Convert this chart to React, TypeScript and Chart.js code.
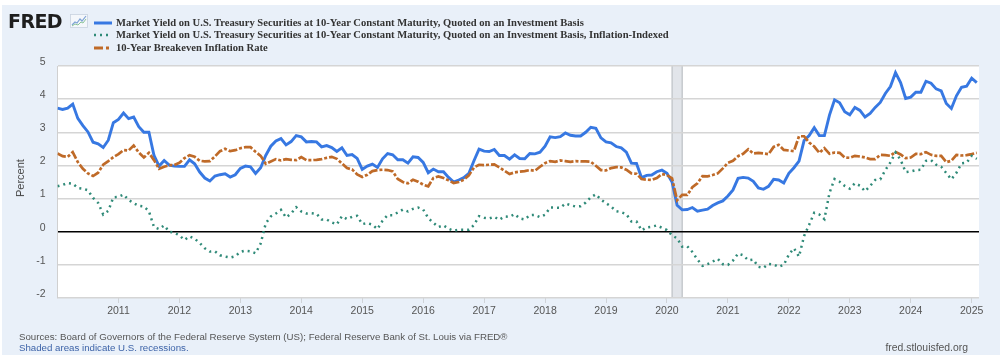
import React, { useEffect, useRef } from "react";
import { Chart, registerables } from "chart.js";

Chart.register(...registerables);

// Monthly observations, January 2010 through February 2025
const startYear = 2010;
const yearTicks = [2011, 2012, 2013, 2014, 2015, 2016, 2017, 2018, 2019, 2020, 2021, 2022, 2023, 2024, 2025];
const yTicks = [-2, -1, 0, 1, 2, 3, 4, 5];

const treasury10y = [
  3.73, 3.69, 3.73, 3.85, 3.42, 3.20, 3.01, 2.70, 2.65, 2.54, 2.76, 3.29,
  3.39, 3.58, 3.41, 3.46, 3.17, 3.00, 3.00, 2.30, 1.98, 2.15, 2.01, 1.98,
  1.97, 1.97, 2.17, 2.05, 1.80, 1.62, 1.53, 1.68, 1.72, 1.75, 1.65, 1.72,
  1.91, 1.98, 1.96, 1.76, 1.93, 2.30, 2.58, 2.74, 2.81, 2.62, 2.72, 2.90,
  2.86, 2.71, 2.72, 2.71, 2.56, 2.60, 2.54, 2.42, 2.53, 2.30, 2.33, 2.21,
  1.88, 1.98, 2.04, 1.94, 2.20, 2.36, 2.32, 2.17, 2.17, 2.07, 2.26, 2.24,
  2.09, 1.78, 1.89, 1.81, 1.81, 1.64, 1.50, 1.56, 1.63, 1.76, 2.14, 2.49,
  2.43, 2.42, 2.48, 2.30, 2.30, 2.19, 2.32, 2.21, 2.20, 2.36, 2.35, 2.40,
  2.58, 2.86, 2.84, 2.87, 2.98, 2.91, 2.89, 2.89, 3.00, 3.15, 3.12, 2.83,
  2.71, 2.68, 2.57, 2.53, 2.40, 2.07, 2.06, 1.63, 1.70, 1.71, 1.81, 1.86,
  1.76, 1.50, 0.80, 0.66, 0.67, 0.73, 0.62, 0.65, 0.68, 0.79, 0.87, 0.93,
  1.08, 1.26, 1.61, 1.64, 1.62, 1.52, 1.32, 1.28, 1.37, 1.58, 1.56, 1.47,
  1.76, 1.93, 2.13, 2.75, 2.90, 3.14, 2.90, 2.90, 3.52, 3.98, 3.89, 3.62,
  3.53, 3.75, 3.66, 3.46, 3.57, 3.75, 3.90, 4.17, 4.38, 4.80, 4.50, 4.02,
  4.06, 4.21, 4.21, 4.54, 4.48, 4.31, 4.25, 3.87, 3.72, 4.10, 4.36, 4.39,
  4.63, 4.50,
];

const tips10y = [
  1.37, 1.41, 1.47, 1.45, 1.32, 1.30, 1.25, 1.02, 0.87, 0.52, 0.63, 1.04,
  1.05, 1.12, 0.96, 0.86, 0.78, 0.76, 0.62, 0.14, 0.08, 0.19, 0.00, -0.03,
  -0.11, -0.25, -0.14, -0.21, -0.34, -0.50, -0.60, -0.59, -0.71, -0.75, -0.78, -0.74,
  -0.61, -0.57, -0.59, -0.65, -0.36, 0.25, 0.46, 0.55, 0.66, 0.43, 0.55, 0.74,
  0.61, 0.55, 0.56, 0.54, 0.37, 0.37, 0.28, 0.22, 0.47, 0.38, 0.45, 0.48,
  0.23, 0.26, 0.21, 0.08, 0.33, 0.50, 0.50, 0.58, 0.67, 0.61, 0.69, 0.73,
  0.67, 0.41, 0.27, 0.14, 0.19, 0.09, 0.03, 0.06, 0.06, 0.06, 0.20, 0.47,
  0.42, 0.40, 0.45, 0.36, 0.46, 0.45, 0.53, 0.40, 0.37, 0.50, 0.51, 0.44,
  0.51, 0.73, 0.73, 0.72, 0.85, 0.80, 0.76, 0.77, 0.88, 1.04, 1.13, 0.97,
  0.86, 0.76, 0.62, 0.59, 0.53, 0.31, 0.31, 0.04, 0.13, 0.15, 0.19, 0.12,
  0.05, -0.11, -0.20, -0.45, -0.44, -0.61, -0.84, -1.03, -0.98, -0.90, -0.82, -0.98,
  -1.00, -0.87, -0.66, -0.71, -0.86, -0.84, -1.06, -1.09, -0.97, -0.99, -1.06, -1.00,
  -0.69, -0.50, -0.75, -0.13, 0.21, 0.57, 0.52, 0.38, 1.17, 1.59, 1.51, 1.38,
  1.30, 1.46, 1.39, 1.22, 1.38, 1.56, 1.58, 1.86, 2.09, 2.39, 2.17, 1.80,
  1.82, 1.86, 1.87, 2.14, 2.16, 2.02, 1.96, 1.77, 1.58, 1.78, 2.06, 2.08,
  2.29, 2.20,
];

const breakeven10y = [
  2.36, 2.28, 2.26, 2.40, 2.10, 1.90, 1.76, 1.68, 1.78, 2.02, 2.13, 2.25,
  2.34, 2.46, 2.45, 2.60, 2.39, 2.24, 2.38, 2.16, 1.90, 1.96, 2.01, 2.01,
  2.08, 2.22, 2.31, 2.26, 2.14, 2.12, 2.13, 2.27, 2.43, 2.50, 2.43, 2.46,
  2.52, 2.55, 2.55, 2.41, 2.29, 2.05, 2.12, 2.19, 2.15, 2.19, 2.17, 2.16,
  2.25, 2.16, 2.16, 2.17, 2.19, 2.23, 2.26, 2.20, 2.06, 1.92, 1.88, 1.73,
  1.65, 1.72, 1.83, 1.86, 1.87, 1.86, 1.82, 1.59, 1.50, 1.46, 1.57, 1.51,
  1.42, 1.37, 1.62, 1.67, 1.62, 1.55, 1.47, 1.50, 1.57, 1.70, 1.94, 2.02,
  2.01, 2.02, 2.03, 1.94, 1.84, 1.74, 1.79, 1.81, 1.83, 1.86, 1.84, 1.96,
  2.07, 2.13, 2.11, 2.15, 2.13, 2.11, 2.13, 2.12, 2.12, 2.11, 1.99, 1.86,
  1.85, 1.92, 1.95, 1.94, 1.87, 1.76, 1.75, 1.59, 1.57, 1.56, 1.62, 1.74,
  1.71, 1.61, 0.95, 1.11, 1.11, 1.34, 1.46, 1.68, 1.67, 1.71, 1.76, 1.91,
  2.08, 2.14, 2.28, 2.35, 2.49, 2.36, 2.38, 2.36, 2.34, 2.56, 2.62, 2.47,
  2.45, 2.43, 2.88, 2.88, 2.69, 2.57, 2.38, 2.52, 2.35, 2.39, 2.38, 2.24,
  2.23, 2.29, 2.27, 2.24, 2.19, 2.19, 2.32, 2.31, 2.29, 2.41, 2.33, 2.22,
  2.24, 2.35, 2.34, 2.40, 2.32, 2.29, 2.29, 2.10, 2.14, 2.32, 2.30, 2.31,
  2.34, 2.38,
];

const recessionStart = 2020.085;
const recessionEnd = 2020.25;

const seriesNames = [
  "Market Yield on U.S. Treasury Securities at 10-Year Constant Maturity, Quoted on an Investment Basis",
  "Market Yield on U.S. Treasury Securities at 10-Year Constant Maturity, Quoted on an Investment Basis, Inflation-Indexed",
  "10-Year Breakeven Inflation Rate",
];

const BLUE = "#3778e2";
const GREEN = "#2f8a78";
const ORANGE = "#bf6a28";
const BG = "#e9f0f9";
const SANS = '"Liberation Sans", Arial, Helvetica, sans-serif';

const toPoints = (arr: number[]) => arr.map((v, i) => ({ x: startYear + i / 12, y: v }));

const plotBgPlugin = {
  id: "plotBg",
  beforeDraw(chart: any) {
    const { ctx, chartArea, scales } = chart;
    ctx.save();
    ctx.fillStyle = "#ffffff";
    ctx.fillRect(chartArea.left, chartArea.top, chartArea.right - chartArea.left, chartArea.bottom - chartArea.top);
    const x0 = scales.x.getPixelForValue(recessionStart);
    const x1 = scales.x.getPixelForValue(recessionEnd);
    ctx.fillStyle = "#e2e5ea";
    ctx.fillRect(x0, chartArea.top, x1 - x0, chartArea.bottom - chartArea.top);
    ctx.strokeStyle = "#c6c9ce";
    ctx.lineWidth = 1.5;
    ctx.beginPath();
    ctx.moveTo(x0, chartArea.top);
    ctx.lineTo(x0, chartArea.bottom);
    ctx.moveTo(x1, chartArea.top);
    ctx.lineTo(x1, chartArea.bottom);
    ctx.stroke();
    ctx.restore();
  },
};

function FredIcon() {
  return (
    <svg width="18" height="14" viewBox="0 0 18 14" style={{ position: "absolute", left: 70, top: 14 }}>
      <rect x="0.5" y="0.5" width="17" height="13" fill="#f4f7fb" stroke="#c9d3df" strokeWidth="0.8" />
      <polyline points="2,11 5,8 7,9 10,5 12,7 16,2" fill="none" stroke="#7fa3d6" strokeWidth="1.2" />
      <polyline points="2,12 5,10 8,11 11,8 13,9 16,5" fill="none" stroke="#8cc59a" strokeWidth="1" />
    </svg>
  );
}

function LegendRow({ top, kind, text }: { top: number; kind: number; text: string }) {
  let sample: any;
  if (kind === 0) {
    sample = <line x1="0" y1="3" x2="18" y2="3" stroke={BLUE} strokeWidth="3" />;
  } else if (kind === 1) {
    sample = <line x1="0" y1="3" x2="18" y2="3" stroke={GREEN} strokeWidth="2.5" strokeDasharray="2 4" />;
  } else {
    sample = <line x1="0" y1="3" x2="18" y2="3" stroke={ORANGE} strokeWidth="3" strokeDasharray="9 3 3 3" />;
  }
  return (
    <div style={{ position: "absolute", left: 94, top: top - 7, height: 14, whiteSpace: "nowrap" }}>
      <svg width="18" height="6" style={{ position: "absolute", left: 0, top: 4 }}>
        {sample}
      </svg>
      <span
        style={{
          position: "absolute",
          left: 22,
          top: 0,
          lineHeight: "14px",
          fontFamily: '"Liberation Serif", "Times New Roman", serif',
          fontWeight: "bold",
          fontSize: 10.6,
          color: "#333",
        }}
      >
        {text}
      </span>
    </div>
  );
}

export default function App() {
  const canvasRef = useRef<HTMLCanvasElement | null>(null);

  useEffect(() => {
    if (!canvasRef.current) return;
    const chart = new Chart(canvasRef.current, {
      type: "line",
      data: {
        datasets: [
          {
            label: seriesNames[1],
            data: toPoints(tips10y),
            borderColor: GREEN,
            borderWidth: 2.5,
            borderDash: [2, 4],
            pointRadius: 0,
            fill: false,
          },
          {
            label: seriesNames[2],
            data: toPoints(breakeven10y),
            borderColor: ORANGE,
            borderWidth: 2.7,
            borderDash: [9, 2, 3, 2],
            pointRadius: 0,
            fill: false,
          },
          {
            label: seriesNames[0],
            data: toPoints(treasury10y),
            borderColor: BLUE,
            borderWidth: 2.9,
            pointRadius: 0,
            fill: false,
          },
        ],
      },
      options: {
        responsive: false,
        animation: false,
        layout: { padding: { left: 8, right: 21, top: 66, bottom: 0 } },
        plugins: { legend: { display: false }, tooltip: { enabled: false } },
        elements: { line: { tension: 0 } },
        scales: {
          x: {
            type: "linear",
            min: 2010,
            max: 2025.12,
            afterBuildTicks: (s: any) => {
              s.ticks = yearTicks.map((v) => ({ value: v }));
            },
            afterFit: (s: any) => {
              s.height = 60;
            },
            grid: { drawOnChartArea: false, drawTicks: true, tickLength: 5, color: "#cfd3d8", lineWidth: 1 },
            border: { display: false },
            ticks: {
              color: "#555",
              font: { family: SANS, size: 10.5 },
              padding: 2,
              maxRotation: 0,
              autoSkip: false,
              callback: (v: any) => String(v),
            },
          },
          y: {
            min: -2,
            max: 5,
            afterBuildTicks: (s: any) => {
              s.ticks = yTicks.map((v) => ({ value: v }));
            },
            afterFit: (s: any) => {
              s.width = 49.5;
            },
            grid: {
              drawTicks: false,
              color: (c: any) => (c.tick && c.tick.value === 0 ? "#000000" : "#d5d5d5"),
              lineWidth: (c: any) => (c.tick && c.tick.value === 0 ? 1.6 : 1.5),
            },
            border: { display: true, color: "#d0d0d0", width: 1 },
            ticks: {
              color: "#555",
              font: { family: SANS, size: 10.5 },
              padding: 12,
              labelOffset: -4,
              callback: (v: any) => String(v),
            },
          },
        },
      },
      plugins: [plotBgPlugin],
    } as any);
    return () => chart.destroy();
  }, []);

  return (
    <div style={{ position: "fixed", left: 0, top: 0, width: 1000, height: 358, background: "#ffffff", overflow: "hidden" }}>
      <div style={{ position: "absolute", left: 2, top: 5, width: 998, height: 350, background: BG }} />
      <canvas ref={canvasRef} width={1000} height={358} style={{ position: "absolute", left: 0, top: 0 }} />
      <div
        style={{
          position: "absolute",
          left: 8,
          top: 11,
          fontFamily: '"DejaVu Sans", Arial, sans-serif',
          fontWeight: 900,
          fontSize: 19,
          lineHeight: "20px",
          letterSpacing: -0.6,
          color: "#1e1e1e",
        }}
      >
        FRED
      </div>
      <FredIcon />
      <LegendRow top={22.5} kind={0} text={seriesNames[0]} />
      <LegendRow top={35} kind={1} text={seriesNames[1]} />
      <LegendRow top={47.5} kind={2} text={seriesNames[2]} />
      <div
        style={{
          position: "absolute",
          left: 20,
          top: 178,
          transform: "translate(-50%, -50%) rotate(-90deg)",
          fontFamily: SANS,
          fontSize: 11,
          color: "#444",
          whiteSpace: "nowrap",
        }}
      >
        Percent
      </div>
      <div style={{ position: "absolute", left: 19, top: 331, fontFamily: SANS, fontSize: 9.7, lineHeight: "11px", color: "#555", whiteSpace: "nowrap" }}>
        Sources: Board of Governors of the Federal Reserve System (US); Federal Reserve Bank of St. Louis via FRED®
      </div>
      <div style={{ position: "absolute", left: 19, top: 342, fontFamily: SANS, fontSize: 9.7, lineHeight: "11px", color: "#3d63a8", whiteSpace: "nowrap" }}>
        Shaded areas indicate U.S. recessions.
      </div>
      <div style={{ position: "absolute", right: 32, top: 341.5, fontFamily: SANS, fontSize: 10.4, lineHeight: "11px", color: "#555", whiteSpace: "nowrap" }}>
        fred.stlouisfed.org
      </div>
    </div>
  );
}
